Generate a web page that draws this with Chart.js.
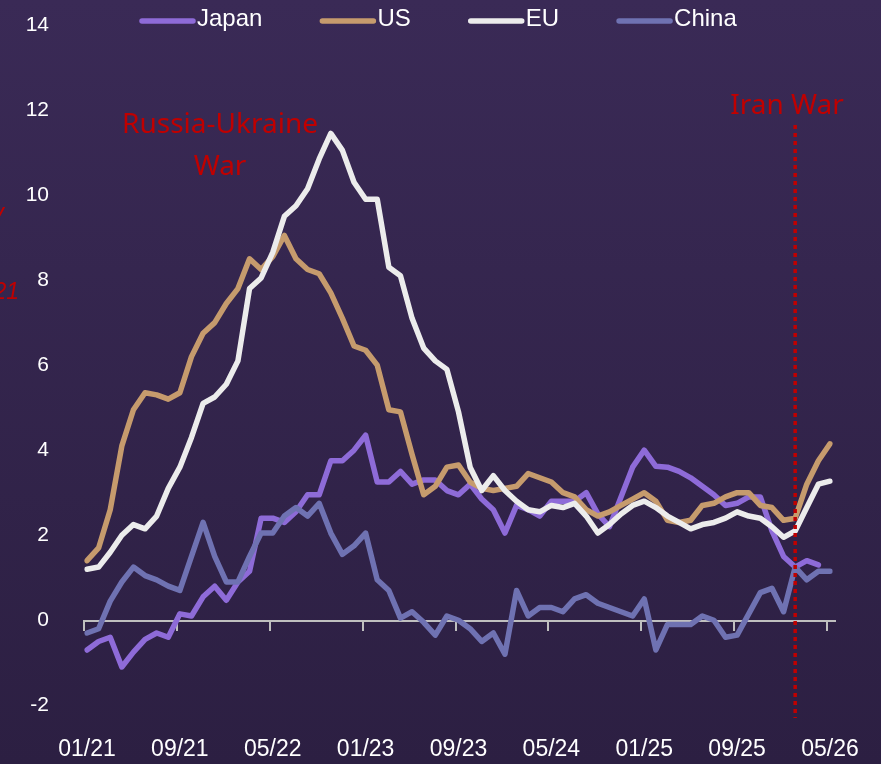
<!DOCTYPE html>
<html>
<head>
<meta charset="utf-8">
<script src="https://cdn.jsdelivr.net/npm/chart.js@4"></script>
<style>
  html, body { margin: 0; padding: 0; }
  body { width: 881px; height: 764px; overflow: hidden; background: linear-gradient(#3a2a56, #2c1f42); }
  #wrap { position: relative; width: 881px; height: 764px; }
</style>
</head>
<body>
<div id="wrap"><canvas id="cpiChart"></canvas></div>
<script>
// monthly points, 01/21 .. 05/26
const months = [
  '01/21','02/21','03/21','04/21','05/21','06/21','07/21','08/21','09/21','10/21','11/21','12/21',
  '01/22','02/22','03/22','04/22','05/22','06/22','07/22','08/22','09/22','10/22','11/22','12/22',
  '01/23','02/23','03/23','04/23','05/23','06/23','07/23','08/23','09/23','10/23','11/23','12/23',
  '01/24','02/24','03/24','04/24','05/24','06/24','07/24','08/24','09/24','10/24','11/24','12/24',
  '01/25','02/25','03/25','04/25','05/25','06/25','07/25','08/25','09/25','10/25','11/25','12/25',
  '01/26','02/26','03/26','04/26','05/26'
];

const japan = [
  -0.7, -0.5, -0.4, -1.1, -0.75, -0.45, -0.3, -0.4, 0.15, 0.1, 0.55, 0.8,
  0.47, 0.9, 1.15, 2.4, 2.4, 2.3, 2.55, 2.95, 2.95, 3.75, 3.75, 4.0,
  4.35, 3.25, 3.25, 3.5, 3.2, 3.3, 3.3, 3.05, 2.95, 3.2, 2.85, 2.6,
  2.05, 2.7, 2.6, 2.45, 2.8, 2.8, 2.8, 3.0, 2.5, 2.2, 2.9, 3.6,
  4.0, 3.62, 3.6, 3.5, 3.35, 3.15, 2.95, 2.7, 2.75, 2.9, 2.9, 2.1,
  1.5, 1.25, 1.4, 1.3, null
];

const us = [
  1.4, 1.7, 2.6, 4.1, 4.95, 5.35, 5.3, 5.2, 5.35, 6.2, 6.75, 7.0,
  7.45, 7.8, 8.5, 8.25, 8.55, 9.05, 8.5, 8.25, 8.15, 7.7, 7.1, 6.45,
  6.35, 6.0, 4.95, 4.9, 3.9, 2.95, 3.15, 3.6, 3.65, 3.25, 3.1, 3.05,
  3.1, 3.15, 3.45, 3.35, 3.25, 3.0, 2.9, 2.6, 2.45, 2.55, 2.7, 2.85,
  3.0, 2.8, 2.35, 2.3, 2.35, 2.7, 2.75, 2.9, 3.0, 3.0, 2.7, 2.65,
  2.35, 2.4, 3.2, 3.75, 4.15
];

const eu = [
  1.2, 1.25, 1.6, 2.0, 2.25, 2.15, 2.45, 3.1, 3.6, 4.3, 5.1, 5.25,
  5.55, 6.1, 7.8, 8.05, 8.65, 9.5, 9.75, 10.15, 10.85, 11.45, 11.05, 10.3,
  9.9, 9.9, 8.3, 8.1, 7.1, 6.4, 6.1, 5.9, 4.9, 3.6, 3.05, 3.4,
  3.05, 2.8, 2.6, 2.55, 2.7, 2.65, 2.75, 2.45, 2.05, 2.25, 2.5, 2.7,
  2.8, 2.65, 2.45, 2.3, 2.15, 2.25, 2.3, 2.4, 2.55, 2.45, 2.4, 2.2,
  1.95, 2.1, 2.65, 3.2, 3.27
];

const china = [
  -0.3, -0.2, 0.45, 0.9, 1.25, 1.05, 0.95, 0.8, 0.7, 1.5, 2.3, 1.5,
  0.9, 0.9, 1.5, 2.05, 2.05, 2.45, 2.65, 2.45, 2.75, 2.05, 1.55, 1.75,
  2.05, 0.95, 0.7, 0.05, 0.2, -0.05, -0.35, 0.1, 0.0, -0.2, -0.5, -0.3,
  -0.8, 0.7, 0.1, 0.3, 0.3, 0.2, 0.5, 0.6, 0.4, 0.3, 0.2, 0.1,
  0.5, -0.7, -0.1, -0.1, -0.1, 0.1, 0.0, -0.4, -0.35, 0.15, 0.65, 0.75,
  0.2, 1.25, 0.95, 1.15, 1.15
];

const yTicks = [-2, 0, 2, 4, 6, 8, 10, 12, 14];
const tickEvery = 8;
const warMonth = '02/26';

const red = '#c00000';
const axisGrey = '#bfbfbf';

// legend drawn by hand: it sits inside the plot area, line sample touching the text
const topLegend = {
  id: 'topLegend',
  afterDraw(chart) {
    const ctx = chart.ctx;
    ctx.save();
    ctx.font = '24px "Liberation Sans", Arial, sans-serif';
    ctx.textBaseline = 'middle';
    let x = 139;
    chart.data.datasets.forEach(ds => {
      ctx.strokeStyle = ds.borderColor;
      ctx.lineWidth = 5.5;
      ctx.lineCap = 'round';
      ctx.beginPath();
      ctx.moveTo(x + 3, 21);
      ctx.lineTo(x + 54, 21);
      ctx.stroke();
      ctx.fillStyle = '#ffffff';
      ctx.fillText(ds.label, x + 58, 19);
      x += 58 + ctx.measureText(ds.label).width + 57;
    });
    ctx.restore();
  }
};

// horizontal axis line drawn at y = 0 with a tick every 8 months
const zeroAxis = {
  id: 'zeroAxis',
  beforeDatasetsDraw(chart) {
    const { ctx, chartArea, scales: { x, y } } = chart;
    const y0 = Math.round(y.getPixelForValue(0)) + 1;
    ctx.save();
    ctx.strokeStyle = axisGrey;
    ctx.lineWidth = 2;
    ctx.beginPath();
    ctx.moveTo(x.getPixelForValue(0) - 4, y0);
    ctx.lineTo(chartArea.right + 6, y0);
    months.forEach((m, i) => {
      if (i % tickEvery !== 0) return;
      const px = Math.round(x.getPixelForValue(i)) - 3;
      ctx.moveTo(px, y0);
      ctx.lineTo(px, y0 + 10);
    });
    ctx.stroke();
    ctx.restore();
  }
};

const notes = {
  id: 'notes',
  afterDatasetsDraw(chart) {
    const { ctx, chartArea, scales: { x, y } } = chart;
    ctx.save();
    // Iran war marker
    const wx = x.getPixelForValue(months.indexOf(warMonth));
    ctx.strokeStyle = red;
    ctx.lineWidth = 3.5;
    ctx.setLineDash([4, 4]);
    ctx.beginPath();
    ctx.moveTo(wx, y.getPixelForValue(11.65));
    ctx.lineTo(wx, chartArea.bottom);
    ctx.stroke();
    ctx.setLineDash([]);

    ctx.fillStyle = red;
    ctx.font = '28px "Noto Sans", sans-serif';
    ctx.textAlign = 'center';
    ctx.textBaseline = 'middle';
    ctx.fillText('Iran War', x.getPixelForValue(60.3), y.getPixelForValue(12.1));
    ctx.fillText('Russia-Ukraine', x.getPixelForValue(11.46), y.getPixelForValue(11.65));
    ctx.fillText('War', x.getPixelForValue(11.46), y.getPixelForValue(10.66));

    // cut-off notes at the left edge
    ctx.font = 'italic 23px "Liberation Sans", Arial, sans-serif';
    ctx.textAlign = 'right';
    ctx.fillText('% y/y', 4, 214);
    ctx.fillText('since 01/21', 19, 293);
    ctx.restore();
  }
};

Chart.defaults.font.family = '"Liberation Sans", Arial, sans-serif';
Chart.defaults.color = '#ffffff';

const ctx = document.getElementById('cpiChart').getContext('2d');
new Chart(ctx, {
  type: 'line',
  data: {
    labels: months,
    datasets: [
      { label: 'Japan', data: japan, borderColor: '#8e6bd8', order: 3 },
      { label: 'US', data: us, borderColor: '#c69b6d', order: 2 },
      { label: 'EU', data: eu, borderColor: '#ececec', order: 1 },
      { label: 'China', data: china, borderColor: '#6f72b2', order: 0 }
    ]
  },
  options: {
    responsive: true,
    maintainAspectRatio: false,
    animation: false,
    layout: { padding: { left: 26, right: 51, top: 25, bottom: 0 } },
    elements: {
      point: { radius: 0 },
      line: { borderWidth: 5.5, tension: 0, borderCapStyle: 'round', borderJoinStyle: 'round', fill: false }
    },
    plugins: {
      legend: { display: false },
      tooltip: { enabled: false }
    },
    scales: {
      x: {
        afterFit: s => { s.height = 46; },
        grid: { display: false, drawTicks: false },
        border: { display: false },
        ticks: {
          autoSkip: false,
          maxRotation: 0,
          padding: 18,
          font: { size: 23 },
          color: '#ffffff',
          callback: (v, i) => (i % tickEvery === 0 ? months[i] : '')
        }
      },
      y: {
        min: -2.3,
        max: 14,
        afterBuildTicks: s => { s.ticks = yTicks.map(v => ({ value: v })); },
        afterFit: s => { s.width = 61; s.paddingTop = 12; s.paddingBottom = 12; },
        grid: { display: false, drawTicks: false },
        border: { display: false },
        ticks: { padding: 38, font: { size: 21 }, color: '#ffffff' }
      }
    }
  },
  plugins: [zeroAxis, topLegend, notes]
});
</script>
</body>
</html>
